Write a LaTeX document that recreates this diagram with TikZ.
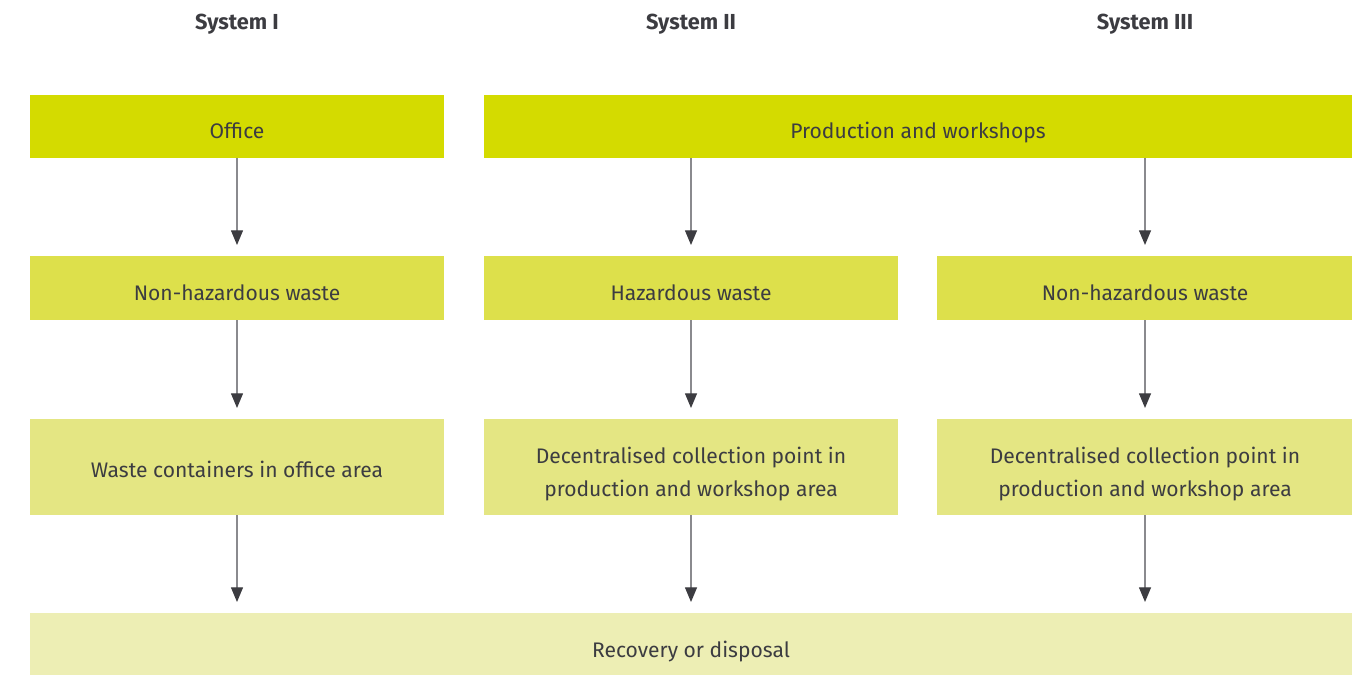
\documentclass[tikz,border=0pt]{standalone}
\usepackage{fontspec}
\setmainfont{Fira Sans}
\usetikzlibrary{arrows.meta}
\definecolor{c1}{HTML}{D4DB00}
\definecolor{c2}{HTML}{DDE04B}
\definecolor{c3}{HTML}{E4E683}
\definecolor{c4}{HTML}{EDEEB4}
\definecolor{txt}{HTML}{3C3C41}
\definecolor{ln}{HTML}{8A8A8E}
\tikzset{
  boxtwo/.style={inner sep=0pt, text=txt, font=\fontsize{15.8}{24.75}\selectfont, align=center},
  box/.style={boxtwo, text height=11pt, text depth=0.5pt},
  hdr/.style={text=txt, font=\bfseries\fontsize{16.3}{18}\selectfont, text height=11pt, text depth=0.5pt},
  conn/.style={draw=ln, line width=0.9pt, -{Triangle[length=11pt,width=9pt,fill=txt,color=txt]}}
}
\begin{document}
\begin{tikzpicture}[x=0.75pt,y=-0.75pt]
\useasboundingbox (0,0) rectangle (1358,675);
\node[hdr] (h1) at (237,22) {System I};
\node[hdr] (h2) at (691,22) {System II};
\node[hdr] (h3) at (1145,22) {System III};
% row 1
\fill[c1] (30,95) rectangle (444,158);
\node[box] (office) at (237,131) {Office};
\fill[c1] (484,95) rectangle (1352,158);
\node[box] (prod) at (918,131) {Production and workshops};
% row 2
\fill[c2] (30,256) rectangle (444,320);
\node[box] (nh1) at (237,293) {Non-hazardous waste};
\fill[c2] (484,256) rectangle (898,320);
\node[box] (hz) at (691,293) {Hazardous waste};
\fill[c2] (937,256) rectangle (1352,320);
\node[box] (nh2) at (1145,293) {Non-hazardous waste};
% row 3
\fill[c3] (30,419) rectangle (444,515);
\node[box] (wc) at (237,470) {Waste containers in office area};
\fill[c3] (484,419) rectangle (898,515);
\node[boxtwo] (dc1) at (691,474) {Decentralised collection point in\\production and workshop area};
\fill[c3] (937,419) rectangle (1352,515);
\node[boxtwo] (dc2) at (1145,474) {Decentralised collection point in\\production and workshop area};
% row 4
\fill[c4] (30,613) rectangle (1352,675);
\node[box] (rec) at (691,650) {Recovery or disposal};
% connectors
\coordinate (a1s) at (237,158); \coordinate (a1e) at (237,245);
\coordinate (a2s) at (691,158); \coordinate (a2e) at (691,245);
\coordinate (a3s) at (1145,158); \coordinate (a3e) at (1145,245);
\coordinate (b1s) at (237,320); \coordinate (b1e) at (237,408);
\coordinate (b2s) at (691,320); \coordinate (b2e) at (691,408);
\coordinate (b3s) at (1145,320); \coordinate (b3e) at (1145,408);
\coordinate (c1s) at (237,515); \coordinate (c1e) at (237,602);
\coordinate (c2s) at (691,515); \coordinate (c2e) at (691,602);
\coordinate (c3s) at (1145,515); \coordinate (c3e) at (1145,602);
\foreach \p in {a1,a2,a3,b1,b2,b3,c1,c2,c3}{\draw[conn] (\p s) -- (\p e);}
\end{tikzpicture}
\end{document}
